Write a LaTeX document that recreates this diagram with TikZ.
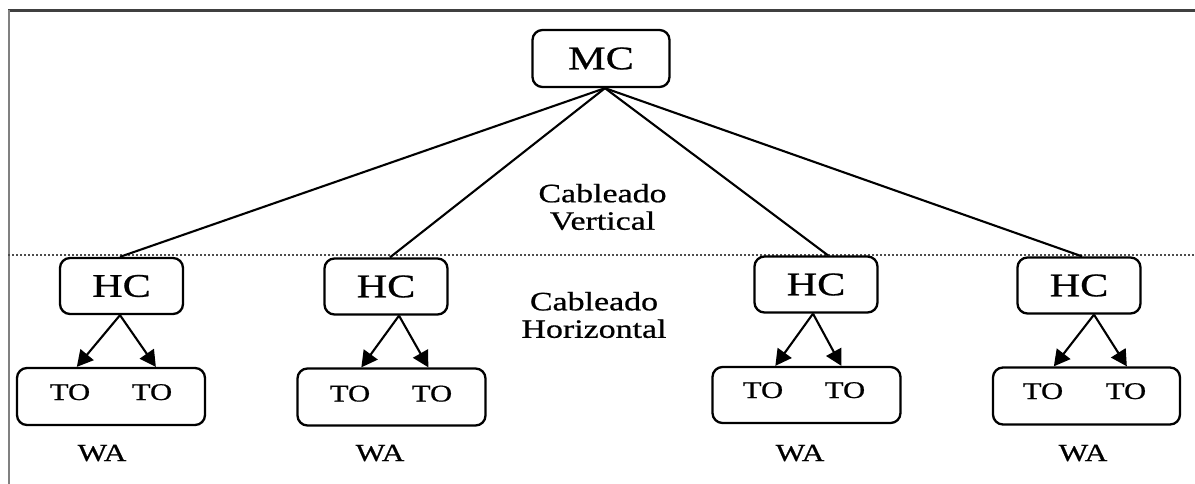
\documentclass[tikz,border=0pt]{standalone}
\usepackage{fontspec}
\setmainfont[FakeStretch=1.28,FakeBold=0.7]{Liberation Serif}
\usetikzlibrary{arrows.meta,calc}

\begin{document}
\begin{tikzpicture}[x=1pt,y=-1pt,
  box/.style={draw, line width=2.3pt, rounded corners=10pt, inner sep=0pt},
  hub/.style={box, minimum width=123pt, minimum height=56pt, font=\fontsize{33}{36}\selectfont},
  outlet/.style={box, minimum width=188pt, minimum height=57pt},
  lbl/.style={inner sep=0pt, anchor=base, font=\fontsize{24}{26}\selectfont},
  zone/.style={inner sep=0pt, align=center, font=\fontsize{26.5}{27.5}\selectfont},
  link/.style={line width=2.1pt},
  arr/.style={line width=2.1pt, -{Triangle[length=16pt,width=17pt]}}
]
\useasboundingbox (0,0) rectangle (1195,484);

% frame edges
\draw[line width=3pt, black!75] (8,11) -- (1195,11);
\draw[line width=2pt, black!50] (9,10) -- (9,484);

% separation between vertical and horizontal cabling
\draw[line width=1.3pt, black!70, dash pattern=on 1.5pt off 2.5pt] (8,255) -- (1195,255);

% main cross-connect
\node[box, minimum width=137pt, minimum height=57pt, font=\fontsize{33}{36}\selectfont] (mc) at (601,58.5) {MC};

% horizontal cross-connects
\node[hub] (hc1) at (121.5,286) {HC};
\node[hub] (hc2) at (386,286.5) {HC};
\node[hub] (hc3) at (816,284.5) {HC};
\node[hub] (hc4) at (1079,285.5) {HC};

% work-area outlet boxes
\node[outlet] (b1) at (111,396.5) {};
\node[outlet] (b2) at (391.5,397) {};
\node[outlet, minimum height=56pt] (b3) at (806.5,395) {};
\node[outlet, minimum width=187pt] (b4) at (1086.5,396) {};

% outlets
\node[lbl] (t1a) at (70,400) {TO};
\node[lbl] (t1b) at (152,400) {TO};
\node[lbl] (t2a) at (350,401.5) {TO};
\node[lbl] (t2b) at (432,401.5) {TO};
\node[lbl] (t3a) at (763,398) {TO};
\node[lbl] (t3b) at (845,398) {TO};
\node[lbl] (t4a) at (1043,399) {TO};
\node[lbl] (t4b) at (1126,399) {TO};

% work areas
\node[lbl, font=\fontsize{24.5}{26}\selectfont] (wa1) at (102,461) {WA};
\node[lbl, font=\fontsize{24.5}{26}\selectfont] (wa2) at (380,461) {WA};
\node[lbl, font=\fontsize{24.5}{26}\selectfont] (wa3) at (800,461) {WA};
\node[lbl, font=\fontsize{24.5}{26}\selectfont] (wa4) at (1083,461) {WA};

% zone captions
\node[zone] (cv) at (602.5,207) {Cableado\\Vertical};
\node[zone] (ch) at (594,315) {Cableado\\Horizontal};

% vertical cabling
\draw[link] ($(mc.south)+(4,0)$) -- ($(hc1.north)+(-1.5,0)$);
\draw[link] ($(mc.south)+(4,0)$) -- ($(hc2.north)+(4,0)$);
\draw[link] ($(mc.south)+(4,0)$) -- ($(hc3.north)+(12,0)$);
\draw[link] ($(mc.south)+(4,0)$) -- ($(hc4.north)+(3,0)$);

% horizontal cabling
\draw[arr] ($(hc1.south)+(-1.5,0)$) -- ($(b1.north west)+(61,0)$);
\draw[arr] ($(hc1.south)+(-1.5,0)$) -- ($(b1.north west)+(140,0)$);
\draw[arr] ($(hc2.south)+(13,0)$) -- ($(b2.north west)+(65,0)$);
\draw[arr] ($(hc2.south)+(13,0)$) -- ($(b2.north west)+(132,0)$);
\draw[arr] ($(hc3.south)+(-3,0)$) -- ($(b3.north west)+(64,0)$);
\draw[arr] ($(hc3.south)+(-3,0)$) -- ($(b3.north west)+(130,0)$);
\draw[arr] ($(hc4.south)+(15,0)$) -- ($(b4.north west)+(62,0)$);
\draw[arr] ($(hc4.south)+(15,0)$) -- ($(b4.north west)+(135,0)$);
\end{tikzpicture}
\end{document}
